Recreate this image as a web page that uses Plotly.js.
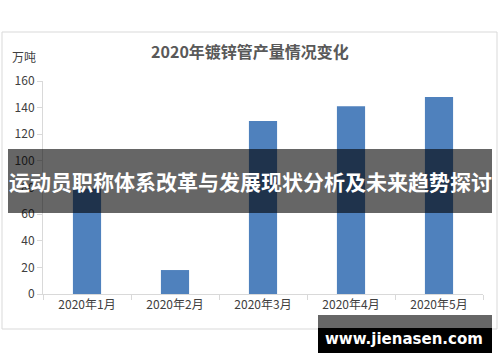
<!DOCTYPE html>
<html>
<head>
<meta charset="utf-8">
<script src="https://cdn.plot.ly/plotly-3.0.1.min.js"></script>
<style>
html,body{margin:0;padding:0;background:#fff;}
#chart{width:500px;height:362px;}
</style>
</head>
<body>
<div id="chart"></div>
<script>
const categories = ["2020年1月", "2020年2月", "2020年3月", "2020年4月", "2020年5月"];
const production = [79, 18, 130, 141, 148];
const yTickValues = [0, 20, 40, 60, 80, 100, 120, 140, 160];
const chartTitle = "2020年镀锌管产量情况变化";
const yUnit = "万吨";
const bannerText = "运动员职称体系改革与发展现状分析及未来趋势探讨";
const watermarkText = "www.jienasen.com";

const W = 500, H = 362;
const M = {l: 43, r: 17, t: 81, b: 68};
const PW = W - M.l - M.r, PH = H - M.t - M.b;
const px = x => (x - M.l) / PW;
const py = y => (H - M.b - y) / PH;

const FONT = '"Noto Sans CJK SC", "Noto Sans", sans-serif';

const trace = {
  type: 'bar',
  x: categories,
  y: production,
  marker: {color: '#4F81BD'},
  hoverinfo: 'none'
};

const layout = {
  width: W, height: H,
  margin: M,
  paper_bgcolor: '#ffffff',
  plot_bgcolor: '#ffffff',
  showlegend: false,
  bargap: 0.68,
  font: {family: FONT, color: '#595959', size: 12},
  title: {
    text: chartTitle,
    font: {family: FONT, size: 16, color: '#595959', weight: 'bold'},
    x: 0.5, xref: 'container', xanchor: 'center',
    y: 1 - 52 / H, yref: 'container', yanchor: 'middle'
  },
  xaxis: {
    type: 'category',
    showline: true, linecolor: '#d9d9d9', linewidth: 1,
    ticks: 'outside', tickson: 'boundaries', ticklen: 5, tickcolor: '#d9d9d9',
    showgrid: false, zeroline: false,
    tickfont: {family: FONT, size: 12, color: '#404040'},
    fixedrange: true
  },
  yaxis: {
    range: [0, 160],
    tickvals: yTickValues,
    ticktext: yTickValues.map(String),
    showline: true, linecolor: '#d9d9d9', linewidth: 1,
    ticks: 'outside', ticklen: 5, tickcolor: '#d9d9d9',
    showgrid: false, zeroline: false,
    tickfont: {family: FONT, size: 12, color: '#404040'},
    fixedrange: true
  },
  shapes: [
    {type: 'rect', xref: 'paper', yref: 'paper', x0: px(2), x1: px(497), y0: py(32), y1: py(329),
     line: {color: '#d9d9d9', width: 1}, fillcolor: 'rgba(0,0,0,0)', layer: 'below'},
    {type: 'rect', xref: 'paper', yref: 'paper', x0: px(8), x1: px(492), y0: py(149), y1: py(213),
     line: {width: 0}, fillcolor: 'rgba(0,0,0,0.6)', layer: 'above'},
    {type: 'rect', xref: 'paper', yref: 'paper', x0: px(318), x1: px(492), y0: py(315), y1: py(328),
     line: {width: 0}, fillcolor: '#666666', layer: 'above'},
    {type: 'rect', xref: 'paper', yref: 'paper', x0: px(318), x1: px(492), y0: py(328), y1: py(353),
     line: {width: 0}, fillcolor: '#000000', layer: 'above'}
  ],
  annotations: [
    {text: yUnit, xref: 'paper', yref: 'paper', x: px(24), y: py(57), showarrow: false,
     xanchor: 'center', yanchor: 'middle', font: {family: FONT, size: 12, color: '#404040'}},
    {text: bannerText, xref: 'paper', yref: 'paper', x: px(250), y: py(181), showarrow: false,
     xanchor: 'center', yanchor: 'middle', font: {family: FONT, size: 21, color: '#ffffff', weight: 'bold'}},
    {text: watermarkText, xref: 'paper', yref: 'paper', x: px(404), y: py(339), showarrow: false,
     xanchor: 'center', yanchor: 'middle', font: {family: '"DejaVu Sans", sans-serif', size: 15, color: '#ffffff', weight: 'bold'}}
  ]
};

Plotly.newPlot('chart', [trace], layout, {staticPlot: true, displayModeBar: false});
</script>
</body>
</html>
